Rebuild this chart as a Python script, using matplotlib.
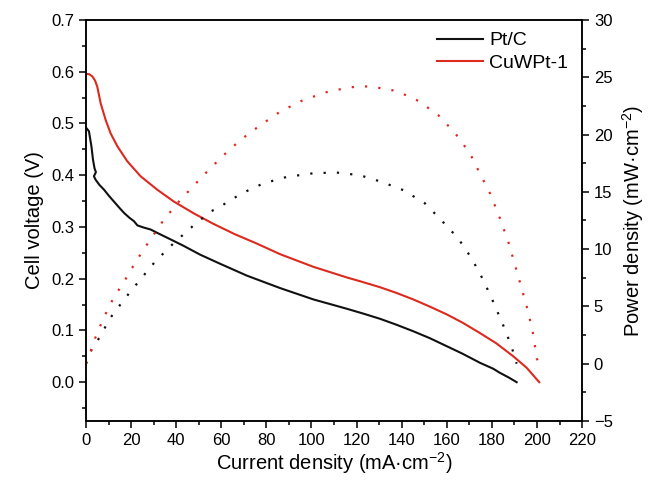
import matplotlib
matplotlib.use('Agg')
import matplotlib.pyplot as plt
from matplotlib.ticker import MultipleLocator, FormatStrFormatter

plt.rcParams['font.family'] = ['Liberation Sans', 'DejaVu Sans']
plt.rcParams['mathtext.default'] = 'regular'

# polarization curves (cell voltage, V)
ptc_i = [0, 1.3, 2.4, 3.1, 3.8, 4.4, 3.5, 4.3, 6, 8, 10.2, 12.4, 14.6, 16.9, 19.2, 21.3, 22.8,
         25.5, 28.7, 32.3, 36.1, 43.5, 50.6, 59.4, 71.3, 86, 100.8, 115.6, 123, 130.4, 137.7,
         145.1, 152.5, 160, 167, 174.7, 180.6, 183.6, 187.5, 191]
ptc_v = [0.492, 0.485, 0.456, 0.43, 0.413, 0.406, 0.398, 0.391, 0.381, 0.372, 0.36, 0.349,
         0.338, 0.327, 0.318, 0.311, 0.303, 0.299, 0.295, 0.287, 0.279, 0.263, 0.2465, 0.229,
         0.206, 0.182, 0.16, 0.142, 0.1325, 0.1225, 0.111, 0.0985, 0.085, 0.0695, 0.055,
         0.0375, 0.026, 0.018, 0.009, 0.0]

cuw_i = [0, 1.5, 2.8, 4, 5, 6.5, 8.7, 10.9, 13.9, 18.3, 24.2, 31.6, 39, 47.9, 56.5, 66,
         75.7, 86, 100.8, 115.6, 122, 130.4, 137.7, 145.1, 152.5, 160, 167, 174.7, 182,
         189.5, 195.4, 201]
cuw_v = [0.596, 0.595, 0.591, 0.583, 0.571, 0.539, 0.507, 0.481, 0.456, 0.427, 0.398, 0.372,
         0.349, 0.326, 0.306, 0.286, 0.268, 0.2475, 0.223, 0.2025, 0.1945, 0.1835, 0.1725,
         0.160, 0.146, 0.131, 0.115, 0.095, 0.075, 0.050, 0.028, 0.0]

# power density curves (mW cm-2)
ptc_pi = [0, 2.5, 6.2, 10.6, 17.3, 23.9, 30.6, 38, 46.1, 55, 59.4, 69, 78.6, 89, 100, 110.4,
          121.5, 131.1, 140.7, 150.3, 157.7, 165.1, 171, 176.2, 180.6, 185, 188.8, 190.2, 191]
ptc_p = [0, 1.25, 2.35, 3.95, 5.7, 7.3, 8.9, 10.35, 11.8, 13.25, 13.7, 14.86, 15.73, 16.3, 16.6,
         16.7, 16.45, 15.87, 15.15, 14.0, 12.5, 10.93, 9.2, 7.3, 5.4, 3.37, 1.47, 0.46, 0]

cuw_pi = [0, 1.8, 4, 7.7, 12.1, 17.3, 22.5, 28.4, 34.3, 41.7, 52.4, 60.2, 68.3, 77.2, 86.1, 95.6,
          106, 116.3, 122.2, 127.4, 137.8, 147.4, 156.2, 163.6, 170.3, 174.7, 179.2, 183.6,
          187.3, 190.3, 193.2, 196.1, 198.4, 199.9, 200.5]
cuw_p = [0, 0.9, 2.2, 3.95, 5.7, 7.3, 9.04, 10.8, 12.5, 14.27, 16.5, 18.05, 19.5, 20.8, 22.0,
         22.94, 23.67, 24.1, 24.22, 24.16, 23.8, 22.94, 21.7, 20.15, 18.35, 16.6, 14.86, 12.68,
         10.64, 8.6, 6.57, 4.53, 2.5, 0.46, 0.2]

labels = ['Pt/C', 'CuWPt-1']
colors = ['#111111', '#dc2a1e']


def main():
    fig = plt.figure(figsize=(6.54, 4.91), dpi=100)
    ax = fig.add_axes([0.1315, 0.1426, 0.7585, 0.8167])
    ax2 = ax.twinx()

    ax.plot(ptc_i, ptc_v, color=colors[0], lw=1.5, label=labels[0])
    ax.plot(cuw_i, cuw_v, color=colors[1], lw=1.5, label=labels[1])
    ax2.plot(ptc_pi, ptc_p, color=colors[0], lw=1.6, ls=(0, (1, 5)))
    ax2.plot(cuw_pi, cuw_p, color=colors[1], lw=1.6, ls=(0, (1, 5)))

    ax.set_xlim(0, 220)
    ax.set_ylim(-0.075, 0.7)
    ax2.set_ylim(-5, 30)

    ax.xaxis.set_major_locator(MultipleLocator(20))
    ax.xaxis.set_minor_locator(MultipleLocator(10))
    ax.yaxis.set_major_locator(MultipleLocator(0.1))
    ax.yaxis.set_minor_locator(MultipleLocator(0.05))
    ax.yaxis.set_major_formatter(FormatStrFormatter('%.1f'))
    ax2.yaxis.set_major_locator(MultipleLocator(5))
    ax2.yaxis.set_minor_locator(MultipleLocator(2.5))

    for a in (ax, ax2):
        a.tick_params(which='major', direction='out', length=5, width=1.1, labelsize=12)
        a.tick_params(which='minor', direction='out', length=3, width=1.1)
        for s in a.spines.values():
            s.set_linewidth(1.1)
    ax.tick_params(axis='y', which='both', right=False)

    ax.set_xlabel('Current density (mA·cm$^{-2}$)', fontsize=14.5, labelpad=2)
    ax.set_ylabel('Cell voltage (V)', fontsize=14.5, labelpad=5)
    ax2.set_ylabel('Power density (mW·cm$^{-2}$)', fontsize=14.5, labelpad=5)

    ax.legend(loc='upper right', bbox_to_anchor=(0.988, 0.99), frameon=False, fontsize=14,
              handlelength=2.4, handletextpad=0.3, labelspacing=0.25, borderaxespad=0)

    fig.savefig('out.png', dpi=100)


if __name__ == '__main__': main()
